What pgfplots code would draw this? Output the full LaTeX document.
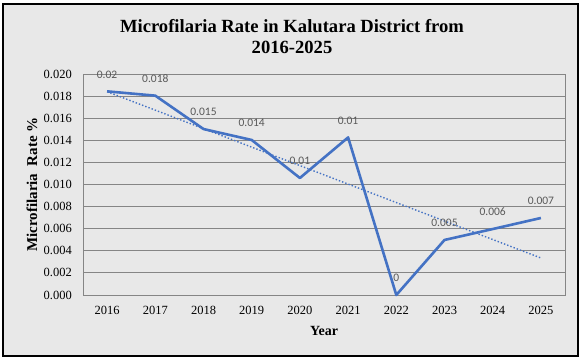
\documentclass[border=0pt]{standalone}
\usepackage{pgfplots}
\pgfplotsset{compat=1.18}
\usepackage{pgfplotstable}
\usepackage{fontspec}
\setmainfont{Liberation Serif}
\newfontfamily\calibri{Carlito}
\definecolor{bgc}{HTML}{E8E8E8}
\definecolor{gridc}{HTML}{858585}
\definecolor{linec}{HTML}{4472C4}
\definecolor{labc}{HTML}{595959}

\pgfplotstableread{
x y label
0 0.01843 0.02
1 0.01804 0.018
2 0.01502 0.015
3 0.01403 0.014
4 0.01059 0.01
5 0.01426 0.01
6 0.00000 0
7 0.00498 0.005
8 0.00597 0.006
9 0.00697 0.007
}\datatab

\pgfplotstableread{
x y
0 0.01840
9 0.00335
}\trendtab

\begin{document}
\begin{tikzpicture}[x=1pt,y=1pt]
\useasboundingbox (-83,-65) rectangle (502,295);
\fill[white] (-83,-65) rectangle (502,295);
\filldraw[fill=bgc, draw=black, line width=1.2pt] (-80,-61) rectangle (495,291);
\node[anchor=base, font=\fontsize{18.6}{21}\selectfont\bfseries] at (209,263) {Microfilaria Rate in Kalutara District from};
\node[anchor=base, font=\fontsize{18.6}{21}\selectfont\bfseries] at (209,242) {2016-2025};
\begin{axis}[
  at={(0,0)}, anchor=south west,
  scale only axis, width=482pt, height=221pt,
  xmin=-0.5, xmax=9.5, ymin=0, ymax=0.020,
  xtick={0,...,9},
  xticklabels={2016,2017,2018,2019,2020,2021,2022,2023,2024,2025},
  ytick={0,0.002,...,0.0201},
  scaled y ticks=false,
  /pgf/number format/.cd, fixed, fixed zerofill, precision=3, assume math mode=true,
  /pgfplots/.cd,
  major tick length=0pt,
  ymajorgrids,
  grid style={gridc, line width=0.9pt},
  axis line style={gridc, line width=0.9pt},
  tick label style={font=\fontsize{12.5}{14}\selectfont, inner sep=0pt},
  yticklabel style={xshift=-11pt},
  xticklabel style={yshift=-11pt},
  every axis y label/.style={at={(axis description cs:-0.1058,0.5)}, rotate=90, anchor=center, font=\fontsize{15}{17}\selectfont\bfseries},
  every axis x label/.style={at={(axis description cs:0.5,-0.163)}, anchor=center, font=\fontsize{14}{16}\selectfont\bfseries},
  ylabel={Microfilaria\ \ Rate \%},
  xlabel={Year},
  clip=false,
]
\addplot[linec, line width=2.6pt, line join=round,
  nodes near coords={\pgfplotspointmeta},
  point meta=explicit symbolic,
  nodes near coords style={anchor=center, yshift=17pt, font=\calibri\fontsize{11.5}{13}\selectfont, text=labc, inner sep=0pt}
] table[x=x, y=y, meta=label] {\datatab};
\addplot[linec, line width=1.4pt, dotted] table[x=x, y=y] {\trendtab};
\end{axis}
\end{tikzpicture}
\end{document}
